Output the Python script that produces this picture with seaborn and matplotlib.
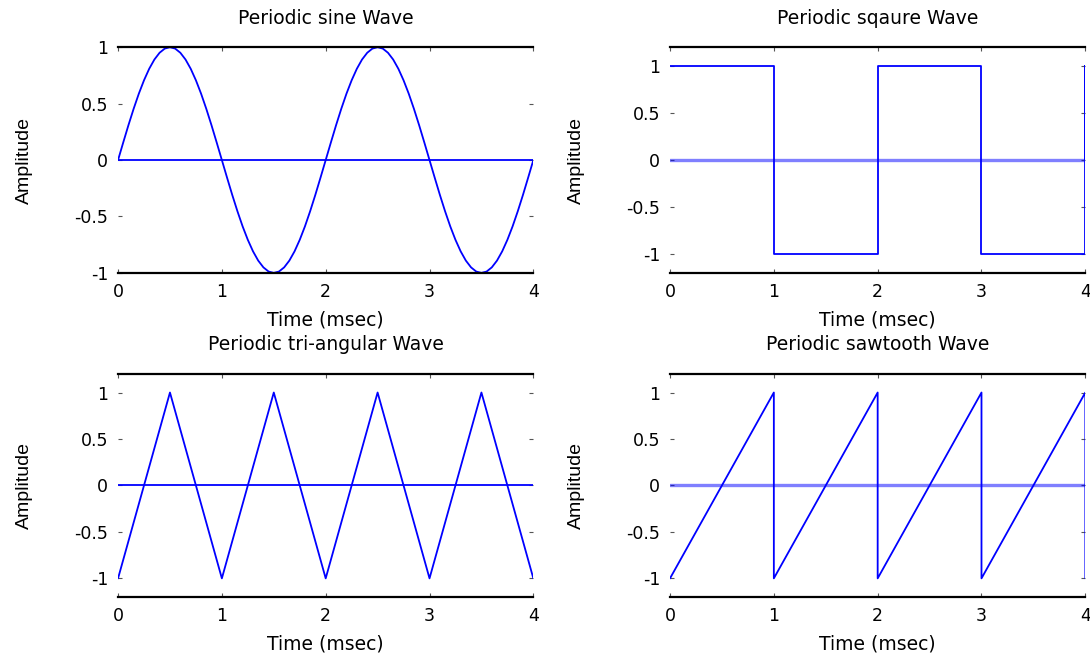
import matplotlib
matplotlib.use("Agg")
import matplotlib.pyplot as plt
import seaborn as sns

sine_time = [0.00, 0.05, 0.10, 0.15, 0.20, 0.25, 0.30, 0.35, 0.40, 0.45,
             0.50, 0.55, 0.60, 0.65, 0.70, 0.75, 0.80, 0.85, 0.90, 0.95,
             1.00, 1.05, 1.10, 1.15, 1.20, 1.25, 1.30, 1.35, 1.40, 1.45,
             1.50, 1.55, 1.60, 1.65, 1.70, 1.75, 1.80, 1.85, 1.90, 1.95,
             2.00, 2.05, 2.10, 2.15, 2.20, 2.25, 2.30, 2.35, 2.40, 2.45,
             2.50, 2.55, 2.60, 2.65, 2.70, 2.75, 2.80, 2.85, 2.90, 2.95,
             3.00, 3.05, 3.10, 3.15, 3.20, 3.25, 3.30, 3.35, 3.40, 3.45,
             3.50, 3.55, 3.60, 3.65, 3.70, 3.75, 3.80, 3.85, 3.90, 3.95, 4.00]
sine_amp = [0, 0.156, 0.309, 0.454, 0.588, 0.707, 0.809, 0.891, 0.951, 0.988,
            1, 0.988, 0.951, 0.891, 0.809, 0.707, 0.588, 0.454, 0.309, 0.156,
            0, -0.156, -0.309, -0.454, -0.588, -0.707, -0.809, -0.891, -0.951, -0.988,
            -1, -0.988, -0.951, -0.891, -0.809, -0.707, -0.588, -0.454, -0.309, -0.156,
            0, 0.156, 0.309, 0.454, 0.588, 0.707, 0.809, 0.891, 0.951, 0.988,
            1, 0.988, 0.951, 0.891, 0.809, 0.707, 0.588, 0.454, 0.309, 0.156,
            0, -0.156, -0.309, -0.454, -0.588, -0.707, -0.809, -0.891, -0.951, -0.988,
            -1, -0.988, -0.951, -0.891, -0.809, -0.707, -0.588, -0.454, -0.309, -0.156, 0]

square_time = [0, 1, 1, 2, 2, 3, 3, 4, 4, 4]
square_amp = [1, 1, -1, -1, 1, 1, -1, -1, 1, 0]

tri_time = [0, 0.5, 1, 1.5, 2, 2.5, 3, 3.5, 4]
tri_amp = [-1, 1, -1, 1, -1, 1, -1, 1, -1]

saw_time = [0, 1, 1, 2, 2, 3, 3, 4, 4]
saw_amp = [-1, 1, -1, 1, -1, 1, -1, 1, -1]

# zero line drawn back across each plot
zero_time = [0, 4]
zero_amp = [0, 0]

x_ticks = [0, 1, 2, 3, 4]
y_ticks = [-1, -0.5, 0, 0.5, 1]
y_tick_labels = ["-1", "-0.5", "0", "0.5", "1"]

BLUE = "#0000ff"

sns.set_style("white")
plt.rcParams["font.family"] = ["DejaVu Sans"]
plt.rcParams["axes.unicode_minus"] = False
plt.rcParams["text.color"] = "black"
plt.rcParams["axes.labelcolor"] = "black"
plt.rcParams["xtick.labelcolor"] = "black"
plt.rcParams["ytick.labelcolor"] = "black"


def plot_wave(ax, t, amp, title, ylim, zero_alpha=1.0, zero_lw=1.3):
    sns.lineplot(x=t, y=amp, ax=ax, sort=False, estimator=None, color=BLUE, lw=1.3)
    sns.lineplot(x=zero_time, y=zero_amp, ax=ax, sort=False, estimator=None,
                 color=BLUE, lw=zero_lw, alpha=zero_alpha)
    ax.set_xlim(0, 4)
    ax.set_ylim(*ylim)
    ax.set_xticks(x_ticks)
    ax.set_xticklabels([str(x) for x in x_ticks])
    ax.set_yticks(y_ticks)
    ax.set_yticklabels(y_tick_labels)
    ax.set_title(title, fontsize=13.5, pad=17, color="black")
    ax.set_xlabel("Time (msec)", fontsize=13.5, labelpad=7)
    ax.set_ylabel("Amplitude", fontsize=14, family=["Liberation Sans", "DejaVu Sans"])
    ax.yaxis.set_label_coords(-0.205, 0.5)
    # MATLAB-ish look: box lines on top/bottom only, tiny inward ticks
    for side in ["left", "right"]:
        ax.spines[side].set_visible(False)
    for side in ["top", "bottom"]:
        ax.spines[side].set_color("black")
        ax.spines[side].set_linewidth(1.6)
    ax.tick_params(direction="in", length=3, width=0.8, color="#555555",
                   top=True, right=True, left=True, bottom=True,
                   labelsize=12.5, pad=7)


fig = plt.figure(figsize=(10.9, 6.56), dpi=100)
ax1 = fig.add_axes([0.1083, 0.584, 0.381, 0.344])
ax2 = fig.add_axes([0.6147, 0.584, 0.381, 0.344])
ax3 = fig.add_axes([0.1083, 0.090, 0.381, 0.340])
ax4 = fig.add_axes([0.6147, 0.090, 0.381, 0.340])

plot_wave(ax1, sine_time, sine_amp, "Periodic sine Wave", (-1, 1))
plot_wave(ax2, square_time, square_amp, "Periodic sqaure Wave", (-1.2, 1.2), zero_alpha=0.5, zero_lw=2.4)
plot_wave(ax3, tri_time, tri_amp, "Periodic tri-angular Wave", (-1.2, 1.2))
plot_wave(ax4, saw_time, saw_amp, "Periodic sawtooth Wave", (-1.2, 1.2), zero_alpha=0.5, zero_lw=2.4)

fig.savefig("out.png", dpi=100)
